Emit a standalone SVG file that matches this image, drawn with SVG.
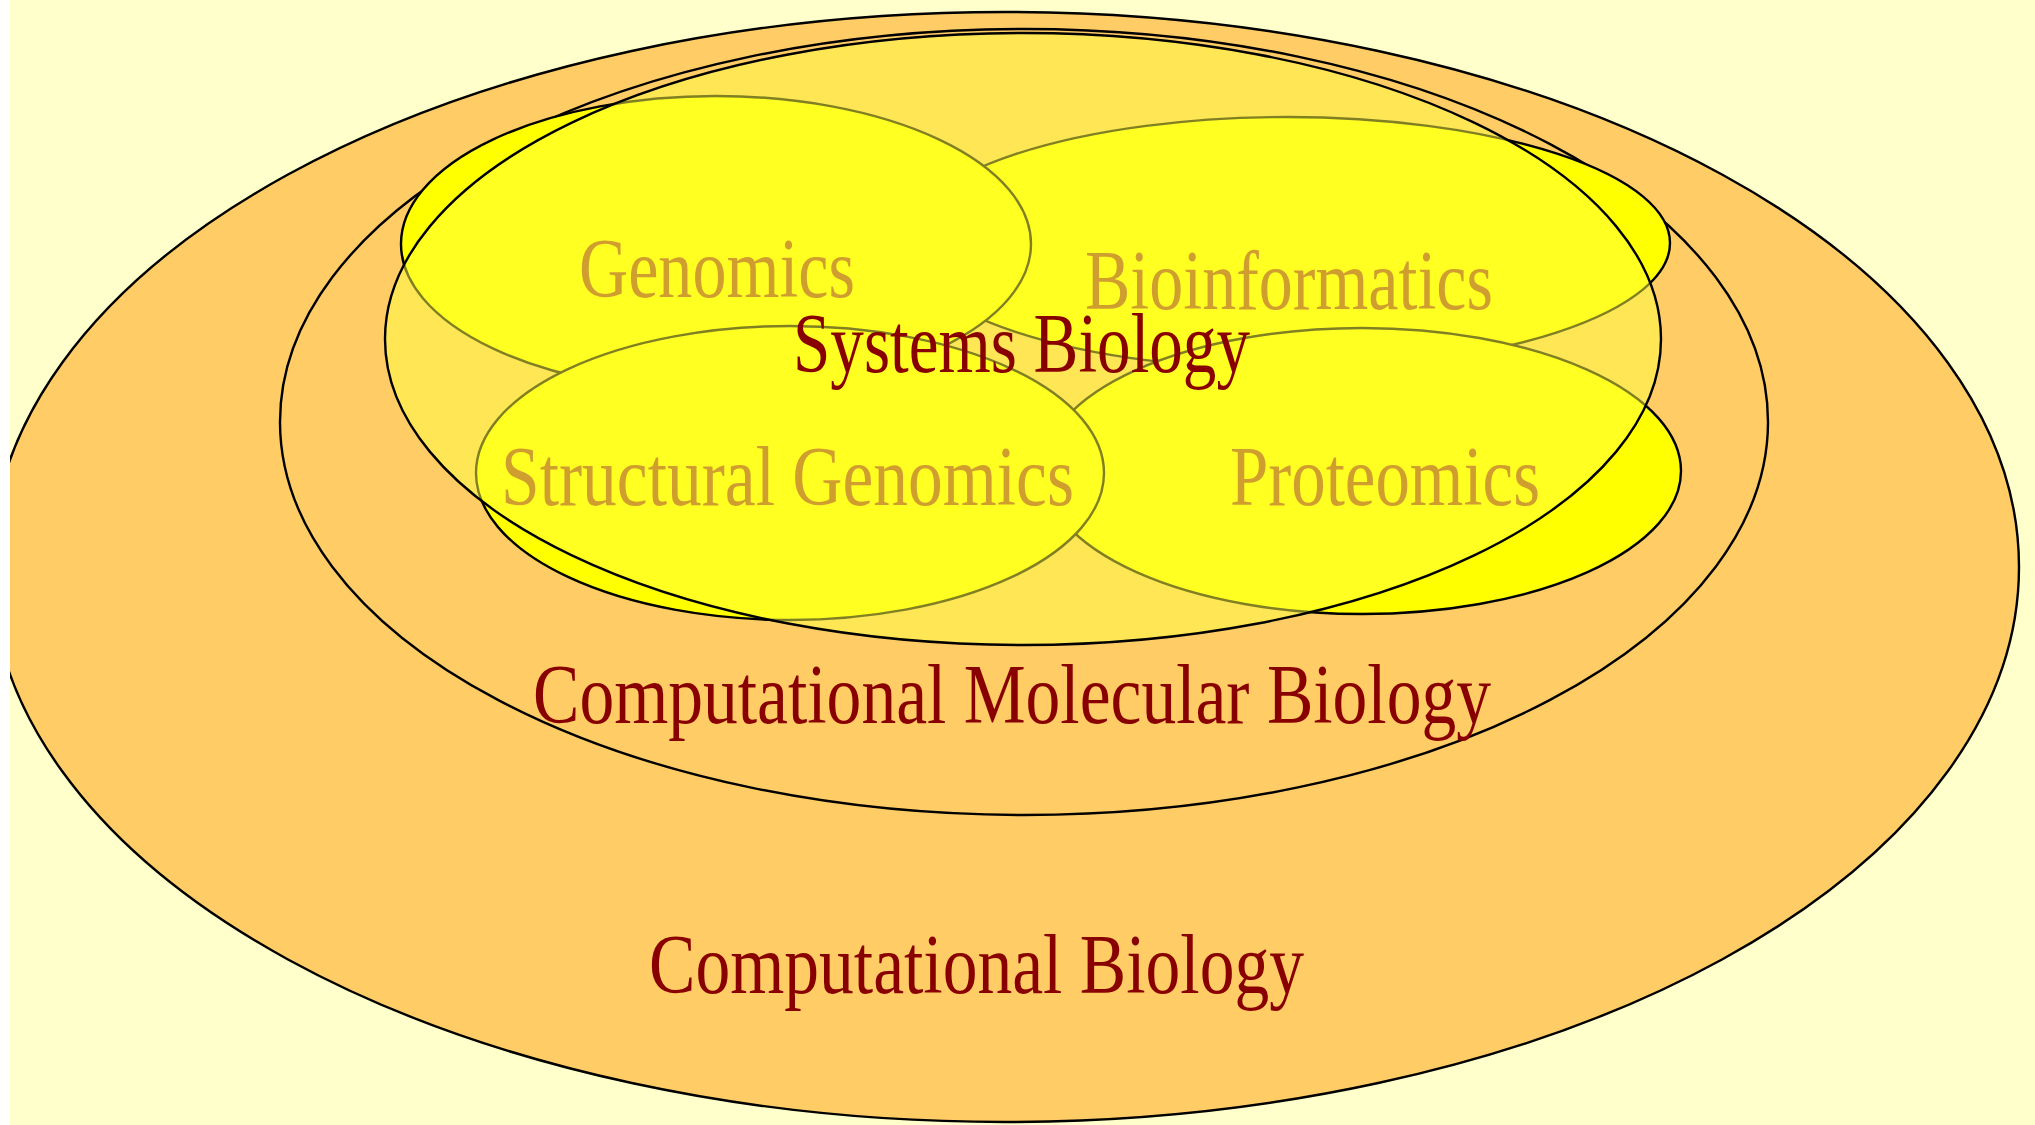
<svg xmlns="http://www.w3.org/2000/svg" width="2035" height="1125" viewBox="0 0 2035 1125">
<style>
.bg{fill:#FFFFCC}
.strip{fill:#FFFFFF}
.field{fill:#FFCC66;stroke:#000000;stroke-width:2.4}
.sub{fill:#FFFF00;stroke:#000000;stroke-width:2.4}
.sys{fill:#FFFF44;fill-opacity:0.5;stroke:#000000;stroke-width:2.4}
.lbl{font-family:"Liberation Serif","DejaVu Serif",serif;font-size:85px;fill:#880000}
.sublbl{font-family:"Liberation Serif","DejaVu Serif",serif;font-size:85px;fill:#A13D18}
</style>
<rect class="bg" x="0" y="0" width="2035" height="1125"/>
<g id="computational-biology">
  <ellipse class="field" cx="1005" cy="567" rx="1014" ry="555"/>
  <text class="lbl" x="649" y="993" textLength="655" lengthAdjust="spacingAndGlyphs">Computational Biology</text>
</g>
<g id="computational-molecular-biology">
  <ellipse class="field" cx="1024" cy="422" rx="744" ry="393"/>
  <text class="lbl" x="533" y="723" textLength="958" lengthAdjust="spacingAndGlyphs">Computational Molecular Biology</text>
</g>
<g id="bioinformatics">
  <ellipse class="sub" cx="1287" cy="243" rx="383" ry="126"/>
  <text class="sublbl" x="1085" y="309" textLength="408" lengthAdjust="spacingAndGlyphs">Bioinformatics</text>
</g>
<g id="proteomics">
  <ellipse class="sub" cx="1362" cy="471" rx="319" ry="143"/>
  <text class="sublbl" x="1230" y="505" textLength="310" lengthAdjust="spacingAndGlyphs">Proteomics</text>
</g>
<g id="genomics">
  <ellipse class="sub" cx="716" cy="244" rx="315" ry="148"/>
  <text class="sublbl" x="579" y="297" textLength="276" lengthAdjust="spacingAndGlyphs">Genomics</text>
</g>
<g id="structural-genomics">
  <ellipse class="sub" cx="790" cy="473" rx="314" ry="147"/>
  <text class="sublbl" x="501" y="505" textLength="573" lengthAdjust="spacingAndGlyphs">Structural Genomics</text>
</g>
<g id="systems-biology">
  <ellipse class="sys" cx="1023" cy="339" rx="638" ry="306"/>
  <text class="lbl" x="793" y="372" textLength="457" lengthAdjust="spacingAndGlyphs">Systems Biology</text>
</g>
<g id="connectors"/>
<rect class="strip" x="0" y="0" width="10" height="1125"/>
</svg>
